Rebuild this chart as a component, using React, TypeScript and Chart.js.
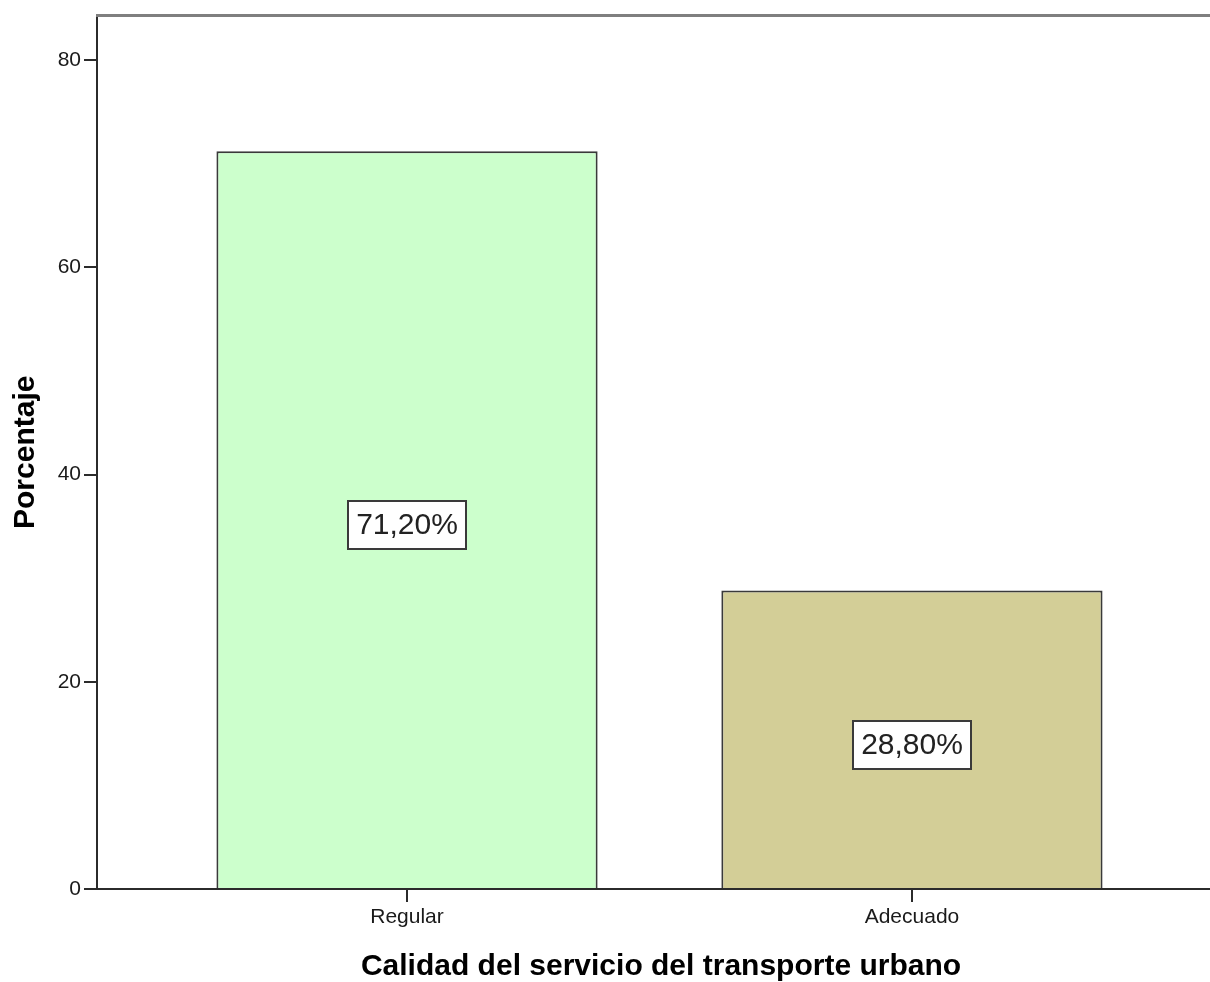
import React, { useEffect, useRef } from 'react';
import { Chart, registerables } from 'chart.js';

Chart.register(...registerables);

const categories = ['Regular', 'Adecuado'];
const percentages = [71.2, 28.8];
const barColors = ['#ccffcc', '#d3ce97'];
const yTicks = [0, 20, 40, 60, 80];
const yAxisTitle = 'Porcentaje';
const xAxisTitle = 'Calidad del servicio del transporte urbano';

const FONT = '"Liberation Sans", Arial, sans-serif';

const frameAndLabels = {
  id: 'frameAndLabels',
  afterDraw(chart: any) {
    const { ctx, chartArea } = chart;
    ctx.save();
    ctx.strokeStyle = '#7f7f7f';
    ctx.lineWidth = 3;
    ctx.beginPath();
    ctx.moveTo(chartArea.left - 1, chartArea.top);
    ctx.lineTo(chartArea.right + 10, chartArea.top);
    ctx.stroke();

    const meta = chart.getDatasetMeta(0);
    const yScale = chart.scales.y;
    ctx.font = `30px ${FONT}`;
    ctx.textAlign = 'center';
    ctx.textBaseline = 'middle';
    meta.data.forEach((bar: any, i: number) => {
      const v = percentages[i];
      const text = v.toFixed(2).replace('.', ',') + '%';
      const cx = Math.round(bar.x);
      const cy = Math.round(yScale.getPixelForValue(v / 2) + 5);
      const w = Math.round(ctx.measureText(text).width + 16);
      const h = 48;
      const x0 = cx - w / 2;
      const y0 = cy - h / 2;
      ctx.fillStyle = '#ffffff';
      ctx.fillRect(x0, y0, w, h);
      ctx.strokeStyle = '#3a3a3a';
      ctx.lineWidth = 2;
      ctx.strokeRect(x0, y0, w, h);
      ctx.fillStyle = '#222222';
      ctx.fillText(text, cx, cy + 1);
    });
    ctx.restore();
  },
};

export default function App() {
  const canvasRef = useRef<HTMLCanvasElement | null>(null);

  useEffect(() => {
    const canvas = canvasRef.current;
    if (!canvas) return;
    const chart = new Chart(canvas, {
      type: 'bar',
      data: {
        datasets: [
          {
            data: percentages.map((v, i) => ({ x: i + 1, y: v })),
            backgroundColor: barColors,
            borderColor: '#3a3a3a',
            borderWidth: 2,
            barPercentage: 0.755,
            categoryPercentage: 1,
          },
        ],
      },
      options: {
        responsive: false,
        animation: false,
        devicePixelRatio: 1,
        layout: { padding: { top: 14, left: 0, right: 0, bottom: 0 } },
        plugins: {
          legend: { display: false },
          tooltip: { enabled: false },
        },
        scales: {
          x: {
            type: 'linear',
            offset: false,
            min: 0.386,
            max: 2.62,
            afterBuildTicks: (scale: any) => {
              scale.ticks = categories.map((_, i) => ({ value: i + 1 }));
            },
            afterFit: (scale: any) => {
              scale.height = 93;
            },
            ticks: {
              autoSkip: false,
              maxRotation: 0,
              padding: 3,
              color: '#1a1a1a',
              font: { family: FONT, size: 21 },
              callback: (value: any) => categories[Math.round(Number(value)) - 1] ?? '',
            },
            grid: {
              offset: false,
              drawOnChartArea: false,
              drawTicks: true,
              tickLength: 13,
              color: '#2b2b2b',
              lineWidth: 2,
            },
            border: { display: true, color: '#2b2b2b', width: 2 },
            title: {
              display: true,
              text: xAxisTitle,
              color: '#000000',
              font: { family: FONT, size: 30, weight: 'bold', lineHeight: 1 },
              padding: { top: 0, bottom: 0 },
            },
          },
          y: {
            type: 'linear',
            min: 0,
            max: 84.3,
            afterBuildTicks: (scale: any) => {
              scale.ticks = yTicks.map((v) => ({ value: v }));
            },
            afterFit: (scale: any) => {
              scale.width = 97;
            },
            ticks: {
              padding: 3,
              color: '#1a1a1a',
              font: { family: FONT, size: 21 },
            },
            grid: {
              drawOnChartArea: false,
              drawTicks: true,
              tickLength: 13,
              color: '#2b2b2b',
              lineWidth: 2,
            },
            border: { display: true, color: '#2b2b2b', width: 2 },
            title: {
              display: true,
              text: yAxisTitle,
              color: '#000000',
              font: { family: FONT, size: 30, weight: 'bold', lineHeight: 1 },
              padding: { top: 11, bottom: 0 },
            },
          },
        },
      },
      plugins: [frameAndLabels],
    } as any);
    return () => chart.destroy();
  }, []);

  return (
    <div
      style={{
        position: 'fixed',
        left: 0,
        top: 0,
        width: 1210,
        height: 982,
        overflow: 'hidden',
        background: '#ffffff',
      }}
    >
      <canvas ref={canvasRef} width={1225} height={982} style={{ display: 'block' }} />
    </div>
  );
}
